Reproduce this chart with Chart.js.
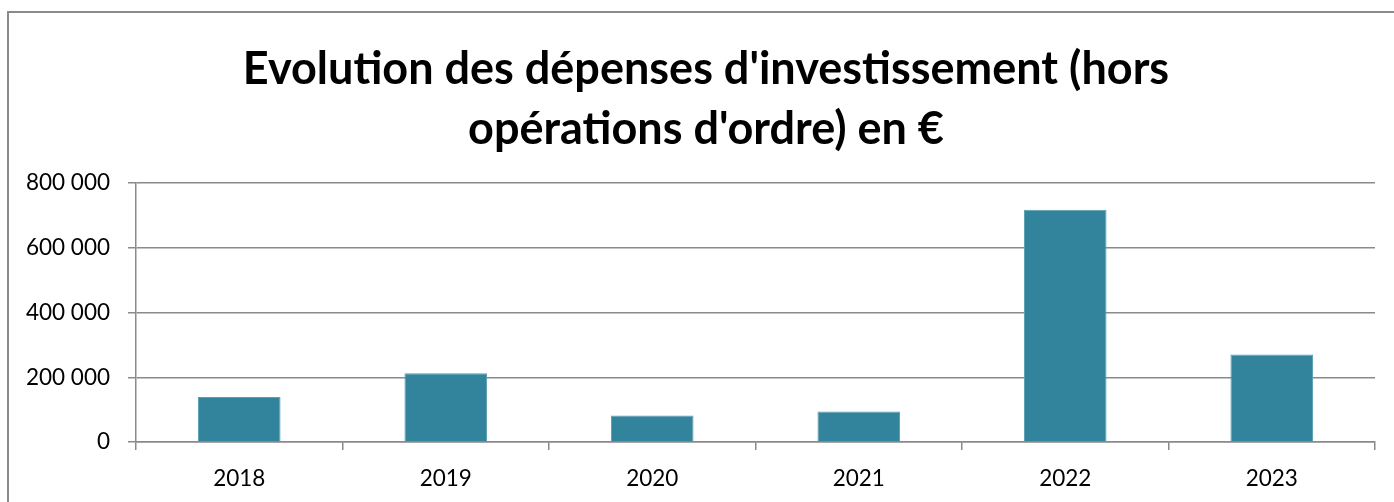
<!DOCTYPE html>
<html>
<head>
<meta charset="utf-8">
<script src="https://cdn.jsdelivr.net/npm/chart.js@4/dist/chart.umd.min.js"></script>
<style>
    html, body { margin: 0; padding: 0; background: #ffffff; }
    #wrap { position: relative; width: 1394px; height: 502px; overflow: hidden; }
    #frame {
        position: absolute; left: 7px; top: 11px; width: 1500px; height: 600px;
        border: 2px solid #8a8a8a; box-sizing: border-box;
    }
    #chart { position: absolute; left: 0; top: 0; }
    #title {
        position: absolute; left: 6px; top: 37px; width: 1400px;
        text-align: center; font-family: Lato, 'Open Sans', sans-serif;
        font-weight: bold; font-size: 45px; line-height: 60px; color: #000;
    }
</style>
</head>
<body>
<div id="wrap">
    <div id="frame"></div>
    <canvas id="chart" width="1394" height="502"></canvas>
    <div id="title"></div>
</div>
<script>
// Données
const titleLines = ["Evolution des dépenses d'investissement (hors", "opérations d'ordre) en €"];
const years = ['2018', '2019', '2020', '2021', '2022', '2023'];
const depenses = [139000, 212000, 82000, 94000, 717000, 270000];
const yTicks = [0, 200000, 400000, 600000, 800000];

const COLOR_BAR = '#31849B';
const COLOR_GRID = '#8a8a8a';
const FONT = "Lato, 'Open Sans', sans-serif";

document.getElementById('title').innerHTML = titleLines.join('<br>');

function formatFr(v) {
    return v.toString().replace(/\B(?=(\d{3})+(?!\d))/g, ' ');
}

new Chart(document.getElementById('chart').getContext('2d'), {
    type: 'bar',
    data: {
        labels: years,
        datasets: [{
            label: "Dépenses d'investissement",
            data: depenses,
            backgroundColor: COLOR_BAR,
            borderColor: '#5a9fb2',
            borderWidth: { top: 1, left: 1, right: 1, bottom: 0 },
            categoryPercentage: 1.0,
            barPercentage: 0.4
        }]
    },
    options: {
        responsive: false,
        animation: false,
        layout: { padding: { left: 0, right: 19, top: 183, bottom: 0 } },
        plugins: {
            legend: { display: false },
            tooltip: { enabled: false },
            title: { display: false }  // titre en HTML
        },
        scales: {
            x: {
                offset: true,
                grid: {
                    offset: true,
                    drawOnChartArea: false,
                    drawTicks: true,
                    tickLength: 8,
                    color: COLOR_GRID,
                    lineWidth: 1.5
                },
                border: { color: COLOR_GRID, width: 1.5 },
                ticks: {
                    color: '#000000',
                    font: { family: FONT, size: 22.5 },
                    padding: 15,
                    maxRotation: 0
                },
                afterFit: function(scale) { scale.height = 60; }
            },
            y: {
                min: 0,
                max: 800000,
                afterBuildTicks: function(scale) {
                    scale.ticks = yTicks.map(v => ({ value: v }));
                },
                grid: {
                    color: COLOR_GRID,
                    lineWidth: 1.5,
                    tickLength: 8
                },
                border: { color: COLOR_GRID, width: 1.5 },
                ticks: {
                    color: '#000000',
                    font: { family: FONT, size: 22.5 },
                    padding: 18,
                    callback: function(value) { return formatFr(value); }
                },
                afterFit: function(scale) { scale.width = 136; }
            }
        }
    }
});
</script>
</body>
</html>
